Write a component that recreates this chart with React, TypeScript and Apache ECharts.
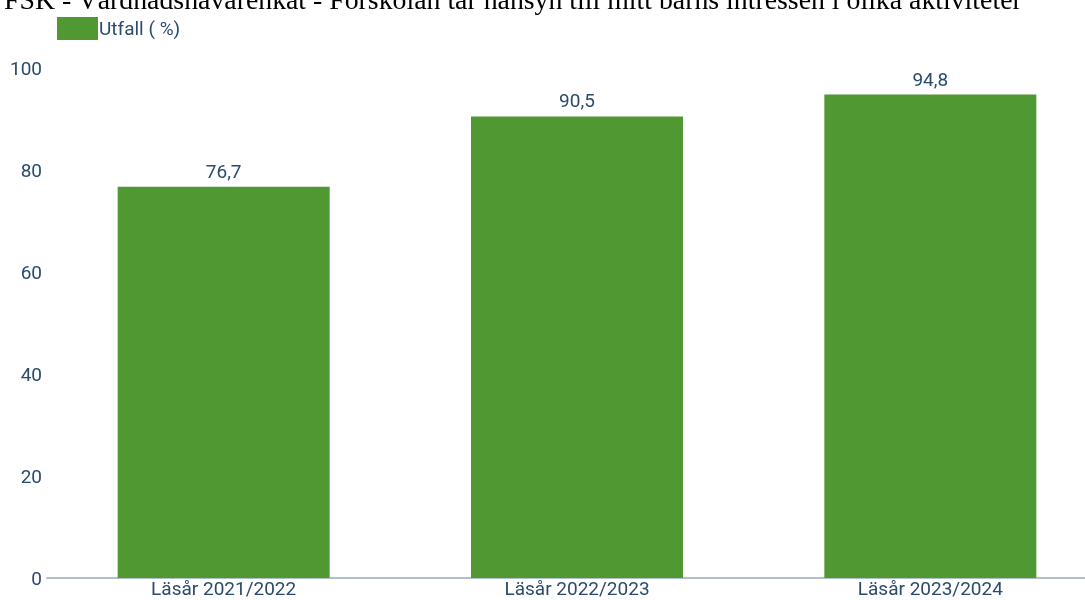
import React, { useEffect, useRef } from "react";
import * as echarts from "echarts";

const titleText =
  "FSK - Vårdnadshavarenkät - Förskolan tar hänsyn till mitt barns intressen i olika aktiviteter";
const categories = ["Läsår 2021/2022", "Läsår 2022/2023", "Läsår 2023/2024"];
const values = [76.7, 90.5, 94.8];
const seriesName = "Utfall ( %)";
const yTicks = [0, 20, 40, 60, 80, 100];

const textColor = "#2a4a6e";

export default function App() {
  const ref = useRef<HTMLDivElement>(null);
  useEffect(() => {
    if (!ref.current) return;
    const chart = echarts.init(ref.current, undefined, { renderer: "svg" });
    chart.setOption({
      animation: false,
      title: {
        text: titleText,
        left: -1,
        top: -20,
        textStyle: {
          fontFamily: "Liberation Serif",
          fontSize: 27.8,
          fontWeight: "normal",
          color: "#000",
        },
      },
      legend: {
        left: 52,
        top: 12,
        itemWidth: 41,
        itemHeight: 23,
        itemGap: 8,
        icon: "rect",
        textStyle: { color: textColor, fontSize: 19, fontFamily: "Roboto", padding: [0, 0, 0, -4] },
        data: [seriesName],
      },
      grid: { left: 47, right: 0, top: 68, bottom: 22, containLabel: false },
      xAxis: {
        type: "category",
        data: categories,
        axisLine: { lineStyle: { color: "#b3c0cc", width: 2 } },
        axisTick: { show: false },
        axisLabel: { color: textColor, fontSize: 19, lineHeight: 17, fontFamily: "Roboto", margin: 2 },
      },
      yAxis: {
        type: "value",
        min: yTicks[0],
        max: yTicks[yTicks.length - 1],
        interval: 20,
        splitLine: { show: false },
        axisLine: { show: false },
        axisTick: { show: false },
        axisLabel: { color: textColor, fontSize: 19, fontFamily: "Roboto", margin: 5 },
      },
      series: [
        {
          name: seriesName,
          type: "bar",
          data: values,
          barWidth: "60%",
          itemStyle: { color: "#509832" },
          label: {
            show: true,
            position: "top",
            distance: 6,
            color: textColor,
            fontSize: 19,
            fontFamily: "Roboto",
            formatter: (p: any) => String(p.value.toFixed(1)).replace(".", ","),
          },
        },
      ],
    });
    return () => chart.dispose();
  }, []);
  return (
    <div
      ref={ref}
      style={{ position: "fixed", left: 0, top: 0, width: 1107, height: 600 }}
    />
  );
}
